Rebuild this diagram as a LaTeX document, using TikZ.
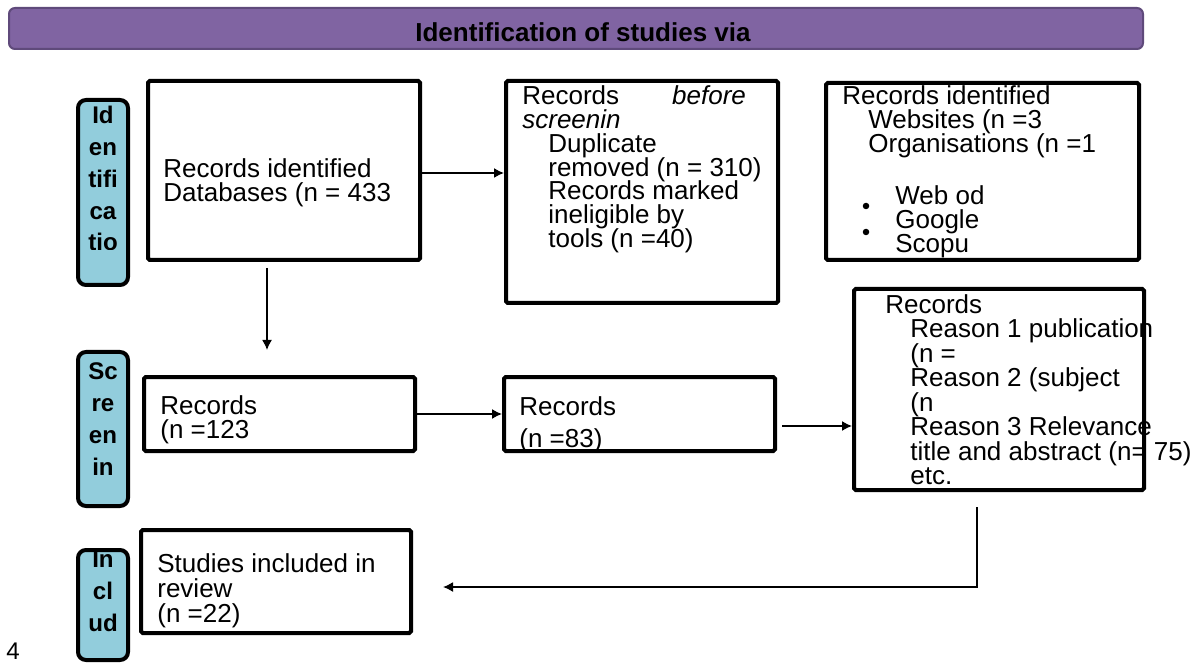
\documentclass[tikz,border=0pt]{standalone}
\usepackage{fontspec}
\setmainfont{Liberation Sans}
\usetikzlibrary{arrows.meta}
\definecolor{bandpurple}{HTML}{8064A2}
\definecolor{bandedge}{HTML}{5F4A7B}
\definecolor{stagecyan}{HTML}{92CDDC}
\tikzset{
  recbox/.style={draw, line width=0.08cm, rounded corners=1pt, inner sep=0pt},
  stagebox/.style={draw, fill=stagecyan, line width=0.08cm, rounded corners=0.16cm, minimum width=1cm, inner sep=0pt},
  rectxt/.style={align=left, inner sep=0pt, anchor=base west, font=\fontsize{14.8}{13.7}\selectfont, execute at begin node={\lineskiplimit=-20pt\relax}},
  stagetxt/.style={align=center, inner sep=0pt, anchor=base, font=\fontsize{13.7}{18.2}\selectfont\bfseries},
  flow/.style={line width=0.03cm, -{Latex[length=2mm,width=2mm]}}
}
\begin{document}
\begin{tikzpicture}
			%%%%% START %%%%%
			\useasboundingbox (0,0) rectangle (24,-13.26);
			
			\node[draw=bandedge, fill=bandpurple, line width=0.04cm, rounded corners=0.12cm, minimum width=22.68cm, minimum height=0.82cm] (band) at (11.52,-0.57) {};
			\node[anchor=base, inner sep=0pt, font=\fontsize{14.8}{16}\selectfont\bfseries] (bandtxt) at (11.66,-0.84) {Identification of studies via};
			
			% stage labels (text nodes sit on their last line)
			\node[stagebox, minimum height=3.7cm] (identlbl) at (2.06,-3.85) {};
			\node[stagebox, minimum height=3.08cm] (screenlbl) at (2.06,-8.58) {};
			\node[stagebox, minimum height=2.2cm] (incllbl) at (2.06,-12.1) {};
			\begin{scope}
				\clip (1.58,-2.0) rectangle (2.54,-5.0);
				\node[stagetxt] (identtxt) at (2.06,-5.02) {Id\\en\\tifi\\ca\\tio};
			\end{scope}
			\begin{scope}
				\clip (1.58,-7.0) rectangle (2.54,-9.5);
				\node[stagetxt] (screentxt) at (2.06,-9.5) {Sc\\re\\en\\in};
			\end{scope}
			\begin{scope}
				\clip (1.58,-11.04) rectangle (2.54,-13.2);
				\node[stagetxt] (incltxt) at (2.06,-12.62) {In\\cl\\ud};
			\end{scope}
			
			% identification row
			\node[recbox, minimum width=5.44cm, minimum height=3.58cm] (dbbox) at (5.68,-3.41) {};
			\node[rectxt] (dbtxt) at (3.26,-4.04) {Records identified\\Databases (n = 433};
			
			\node[recbox, minimum width=5.44cm, minimum height=4.44cm] (dupbox) at (12.84,-3.84) {};
			\node[rectxt, font=\fontsize{14.8}{13.55}\selectfont] (duptxt) at (10.44,-4.95) {Records\hspace{1.06cm}\textit{before}\\\textit{screenin}\\\hspace*{0.52cm}Duplicate\\\hspace*{0.52cm}removed (n = 310)\\\hspace*{0.52cm}Records marked\\\hspace*{0.52cm}ineligible by\\\hspace*{0.52cm}tools (n =40)};
			
			\node[recbox, minimum width=6.26cm, minimum height=3.54cm] (webbox) at (19.65,-3.43) {};
			\node[rectxt] (webtxt) at (16.84,-3.06) {Records identified\\\hspace*{0.52cm}Websites (n =3\\\hspace*{0.52cm}Organisations (n =1};
			\node[rectxt, font=\fontsize{14.8}{13.9}\selectfont] (srclist) at (17.90,-5.06) {Web od\\Google\\Scopu};
			\fill (17.32,-4.12) circle (0.065);
			\fill (17.32,-4.64) circle (0.065);
			
			% screening row
			\node[recbox, minimum width=5.42cm, minimum height=1.48cm] (scrbox) at (5.59,-8.28) {};
			\node[rectxt, font=\fontsize{14.8}{13.1}\selectfont] (scrtxt) at (3.20,-8.76) {Records\\(n =123};
			
			\node[recbox, minimum width=5.42cm, minimum height=1.48cm] (scr2box) at (12.79,-8.28) {};
			\node[rectxt, font=\fontsize{14.8}{18.2}\selectfont] (scr2txt) at (10.38,-8.94) {Records\\(n =83)};
			
			\node[recbox, minimum width=5.8cm, minimum height=4.02cm] (exclbox) at (19.98,-7.79) {};
			\node[rectxt, font=\fontsize{14.8}{13.94}\selectfont] (excltxt) at (17.70,-9.69) {Records\\\hspace*{0.5cm}Reason 1 publication\\\hspace*{0.5cm}(n =\\\hspace*{0.5cm}Reason 2 (subject\\\hspace*{0.5cm}(n\\\hspace*{0.5cm}Reason 3 Relevance\\\hspace*{0.5cm}title and abstract (n= 75)\\\hspace*{0.5cm}etc.};
			
			% included row
			\node[recbox, minimum width=5.4cm, minimum height=2.06cm] (inclbox) at (5.52,-11.63) {};
			\node[rectxt, font=\fontsize{14.8}{14.2}\selectfont] (inclboxtxt) at (3.14,-12.44) {Studies included in\\review\\(n =22)};
			
			\node[inner sep=0pt, anchor=base west, font=\fontsize{13.7}{16}\selectfont] (pagenum) at (0.12,-13.18) {4};
			
			% connectors
			\coordinate (dbdown) at (5.34,-5.36);
			\coordinate (scrin) at (5.34,-7.0);
			\coordinate (inclin) at (8.86,-11.74);
			\draw[flow] ([yshift=-0.05cm]dbbox.east) -- ([yshift=-0.05cm]dbbox.east -| dupbox.west);
			\draw[flow] (dbdown) -- (scrin);
			\draw[flow] (scrbox.east) -- (scr2box.west);
			\draw[flow] ([xshift=0.1cm,yshift=-0.24cm]scr2box.east) -- ([yshift=-0.24cm]scr2box.east -| exclbox.west);
			\draw[flow] ([xshift=-0.44cm,yshift=-0.3cm]exclbox.south) |- (inclin);
			%%%%% END %%%%%
\end{tikzpicture}
\end{document}
